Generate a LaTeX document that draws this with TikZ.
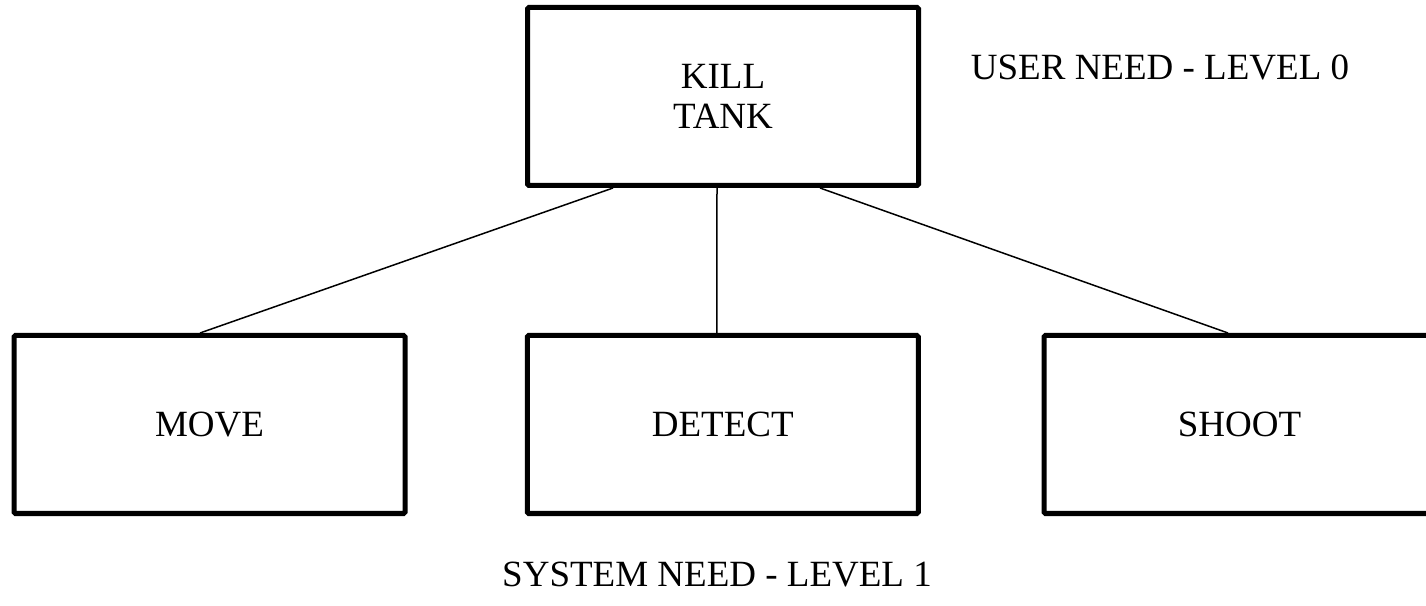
\documentclass[tikz,border=0pt]{standalone}
\usepackage{fontspec}
\setmainfont{Liberation Serif}
\usetikzlibrary{positioning}
\tikzset{needbox/.style = {draw, line width = 5, rounded corners = 1.5, minimum width = 391, minimum height = 178, inner sep = 0, align = center, font = \fontsize{37}{40}\selectfont}}
\tikzset{levellabel/.style = {inner sep = 0, font = \fontsize{37}{40}\selectfont}}
\tikzset{link/.style = {line width = 1.5}}

\begin{document}
\begin{tikzpicture}[x=1pt, y=1pt]
    \useasboundingbox (0, 0) rectangle (1426, 605);

    \node [needbox] (kill) at (723, 508.5) {KILL\\TANK};
    \node [levellabel] (userneed) at (1160, 538) {USER NEED - LEVEL 0};

    \node [needbox] (move) at (209.5, 180.5) {MOVE};
    \node [needbox] (detect) at (722.75, 180.5) {DETECT};
    \node [needbox] (shoot) at (1239.5, 180.5) {SHOOT};
    \node [levellabel] (systemneed) at (717, 30) {SYSTEM NEED - LEVEL 1};

    \draw [link] ([xshift = -110]kill.south) -- ([xshift = -9.5]move.north);
    \draw [link] ([xshift = -6]kill.south) -- ([xshift = -6]detect.north);
    \draw [link] ([xshift = 97]kill.south) -- ([xshift = -11.5]shoot.north);
  \end{tikzpicture}
\end{document}
